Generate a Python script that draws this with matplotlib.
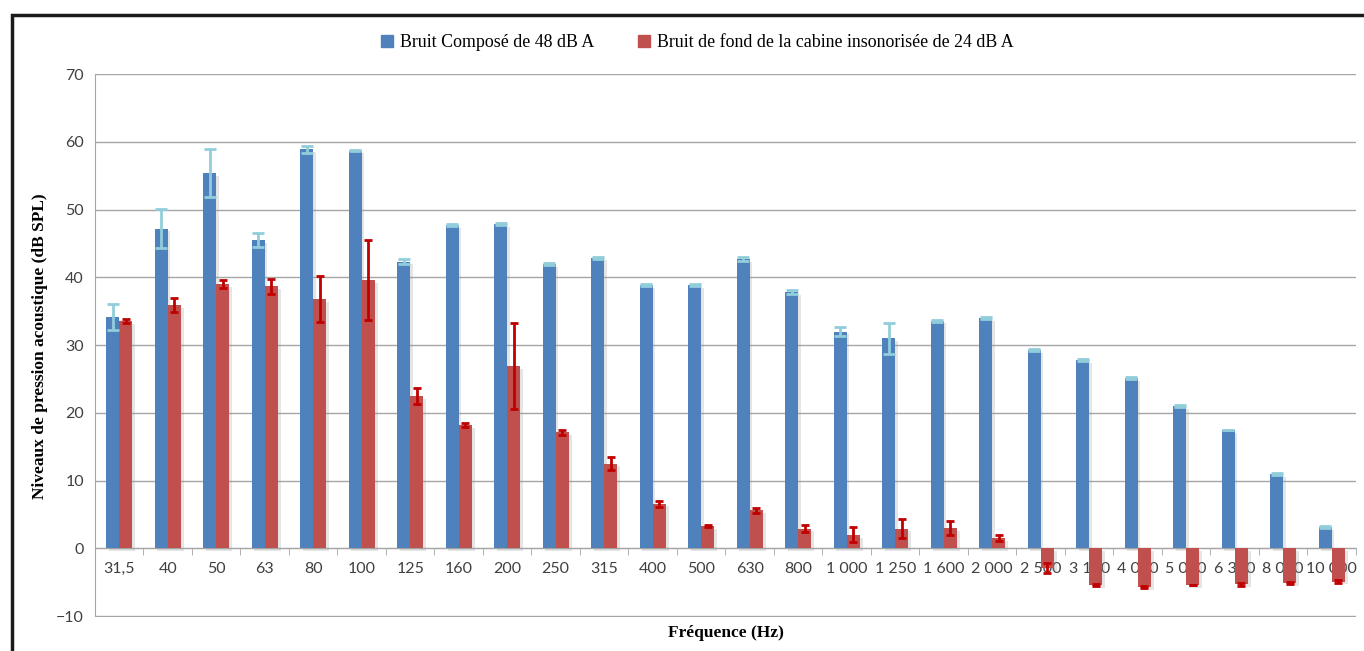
import numpy as np
import matplotlib
matplotlib.use("Agg")
import matplotlib.pyplot as plt
from matplotlib.patches import Rectangle
from matplotlib.lines import Line2D
import matplotlib.patheffects as pe

# frequency bands (Hz), French formatting
freq_labels = ["31,5", "40", "50", "63", "80", "100", "125", "160", "200", "250",
               "315", "400", "500", "630", "800", "1 000", "1 250", "1 600", "2 000",
               "2 500", "3 150", "4 000", "5 000", "6 300", "8 000", "10 000"]

# Bruit composé de 48 dB A
compose = [34.1, 47.2, 55.4, 45.5, 58.9, 58.7, 42.3, 47.7, 47.9, 41.9,
           42.9, 38.8, 38.8, 42.7, 37.8, 32.0, 31.0, 33.6, 34.0,
           29.3, 27.8, 25.1, 21.0, 17.4, 11.0, 3.1]
compose_err = [1.9, 2.85, 3.5, 1.0, 0.55, 0.12, 0.4, 0.15, 0.15, 0.15,
               0.15, 0.15, 0.15, 0.3, 0.3, 0.65, 2.3, 0.15, 0.15,
               0.15, 0.15, 0.15, 0.15, 0.0, 0.15, 0.15]

# Bruit de fond de la cabine insonorisée de 24 dB A
fond = [33.5, 35.9, 39.0, 38.7, 36.8, 39.6, 22.5, 18.2, 26.9, 17.1,
        12.5, 6.6, 3.3, 5.6, 2.9, 2.0, 2.9, 3.0, 1.5,
        -2.9, -5.4, -5.7, -5.4, -5.3, -5.1, -4.9]
fond_err = [0.3, 1.0, 0.65, 1.1, 3.4, 5.9, 1.2, 0.3, 6.4, 0.3,
            1.0, 0.45, 0.2, 0.4, 0.5, 1.1, 1.4, 1.1, 0.4,
            0.7, 0.2, 0.2, 0.0, 0.2, 0.2, 0.2]

BLUE = "#4f81bd"
RED = "#c0504d"
GRID = "#a6a6a6"

fig = plt.figure(figsize=(13.64, 6.51), dpi=100)
ax = fig.add_axes([0.0696, 0.0515, 0.9245, 0.8348])

x = np.arange(len(freq_labels))
w = 0.27
shadow = [pe.SimplePatchShadow(offset=(2, -2), shadow_rgbFace="#999999", alpha=0.25), pe.Normal()]

b1 = ax.bar(x - w / 2, compose, w, color=BLUE, zorder=3)
b2 = ax.bar(x + w / 2, fond, w, color=RED, zorder=3)
for b in list(b1) + list(b2):
    b.set_path_effects(shadow)

ax.errorbar(x - w / 2, compose, yerr=compose_err, fmt="none", ecolor="#92cddc",
            elinewidth=2, capsize=4, capthick=2, zorder=4)
ax.errorbar(x + w / 2, fond, yerr=fond_err, fmt="none", ecolor="#c00000",
            elinewidth=2, capsize=3, capthick=2, zorder=4)

ax.set_xlim(-0.5, len(freq_labels) - 0.5)
ax.set_ylim(-10.2, 70)
ax.set_yticks(range(-10, 71, 10))
ax.yaxis.grid(True, color=GRID, lw=1, zorder=0)
ax.set_axisbelow(True)

for s in ["top", "right"]:
    ax.spines[s].set_visible(False)
ax.spines["left"].set_color(GRID)
ax.spines["left"].set_bounds(-10, 70)
ax.spines["bottom"].set_position(("data", 0))
ax.spines["bottom"].set_color(GRID)

ax.set_xticks(x)
ax.set_xticklabels(freq_labels, fontsize=11.5, color="#404040", fontfamily="Lato")
ax.set_xticks(np.arange(len(freq_labels) + 1) - 0.5, minor=True)
ax.tick_params(axis="x", which="major", length=0, pad=10)
ax.tick_params(axis="x", which="minor", length=5, color=GRID, direction="out")
ax.tick_params(axis="y", length=0, pad=8, labelsize=11.5, labelcolor="#404040")
for t in ax.get_yticklabels():
    t.set_fontfamily("Lato")

ax.set_xlabel("Fréquence (Hz)", fontsize=12.5, fontweight="bold",
              fontfamily="Liberation Serif")
ax.xaxis.set_label_coords(0.5, -0.014)
ax.set_ylabel("Niveaux de pression acoustique (dB SPL)", fontsize=12.5,
              fontweight="bold", fontfamily="Liberation Serif", labelpad=6)

handles = [Line2D([], [], ls="none", marker="s", markersize=8, color=BLUE),
           Line2D([], [], ls="none", marker="s", markersize=8, color=RED)]
fig.legend(handles, ["Bruit Composé de 48 dB A",
                     "Bruit de fond de la cabine insonorisée de 24 dB A"],
           loc="center", bbox_to_anchor=(0.508, 0.935), ncol=2, frameon=False,
           handletextpad=-0.1, columnspacing=2.0, handlelength=1.6,
           prop={"family": "Liberation Serif", "size": 12.9})

# outer chart frame
fig.patches.append(Rectangle((0.0085, -0.05), 1.0, 1.027, transform=fig.transFigure,
                             fill=False, edgecolor="#1a1a1a", lw=2.5))

fig.savefig("out.png", dpi=100)
